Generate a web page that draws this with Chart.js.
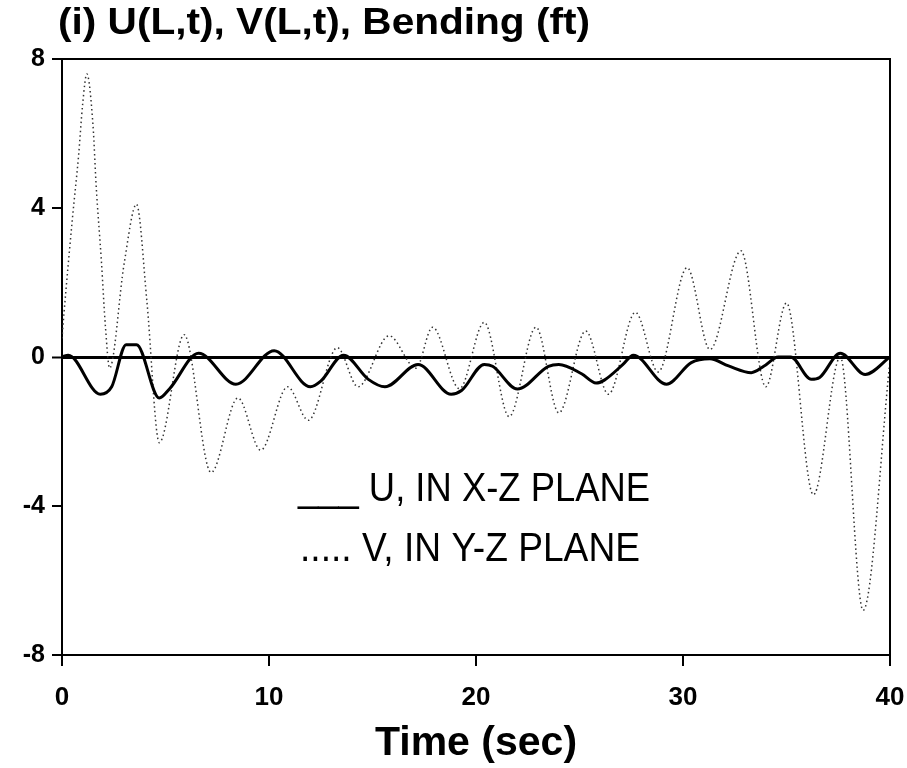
<!DOCTYPE html>
<html>
<head>
<meta charset="utf-8">
<script src="https://cdn.jsdelivr.net/npm/chart.js@4.4.0/dist/chart.umd.min.js"></script>
<style>
  html, body { margin: 0; padding: 0; background: #fff; }
  #wrap { width: 907px; height: 768px; }
</style>
</head>
<body>
<div id="wrap"><canvas id="bendChart" width="907" height="768"></canvas></div>
<script>
// 数据：U (X-Z 平面) 与 V (Y-Z 平面) 弯曲位移
const uTimes = [0, 0.3, 1.85, 2.4, 3.1, 3.6, 4.7, 5.2, 6.6, 8.4, 10.25, 12.0, 12.5, 13.6, 14.8, 15.6, 17.2, 18.8, 19.3, 20.4, 20.8, 22.0, 23.5, 24.0, 25.1, 25.8, 26.2, 27.1, 27.6, 29.2, 30.4, 31.3, 32.2, 33.3, 33.9, 34.6, 35.2, 36.2, 36.6, 37.6, 38.8, 40];
const uValues = [0, 0.05, -1.0, -0.8, 0.33, 0.33, -1.1, -0.85, 0.1, -0.73, 0.17, -0.8, -0.65, 0.05, -0.6, -0.8, -0.2, -1.0, -0.9, -0.2, -0.25, -0.86, -0.25, -0.2, -0.45, -0.7, -0.62, -0.2, 0.05, -0.73, -0.15, -0.05, -0.24, -0.42, -0.25, 0, 0, -0.6, -0.55, 0.1, -0.47, 0];

const vTimes = [0, 0.1, 0.5, 0.8, 1.0, 1.2, 1.5, 1.65, 1.9, 2.1, 2.3, 3.0, 3.6, 4.1, 4.7, 5.9, 7.2, 8.5, 9.6, 10.9, 11.9, 13.3, 14.3, 15.8, 17.1, 17.9, 19.2, 20.4, 21.6, 22.9, 24.0, 25.3, 26.4, 27.7, 28.8, 30.2, 31.3, 32.8, 34.0, 35.0, 36.3, 37.6, 38.7, 40];
const vValues = [0.5, 1.2, 3.7, 5.4, 6.8, 7.6, 6.2, 4.6, 2.6, 0.8, -0.3, 2.5, 4.1, 1.5, -2.3, 0.6, -3.1, -1.1, -2.5, -0.8, -1.7, 0.25, -0.8, 0.57, -0.3, 0.8, -0.85, 0.93, -1.6, 0.8, -1.5, 0.7, -1.0, 1.2, -0.4, 2.4, 0.2, 2.85, -0.8, 1.45, -3.7, 0.0, -6.8, -0.1];

const xTicks = [0, 10, 20, 30, 40];
const yTicks = [-8, -4, 0, 4, 8];

const titleText = "(i) U(L,t), V(L,t), Bending (ft)";
const xTitle = "Time (sec)";
const legendLines = ["___ U, IN X-Z PLANE", "..... V, IN Y-Z PLANE"];

const toPoints = (xs, ys) => xs.map((x, i) => ({ x: x, y: ys[i] }));

// 写一行文字，按目标宽度横向压缩/拉伸
function stretchText(ctx, text, x, y, width) {
    const w = ctx.measureText(text).width;
    ctx.save();
    ctx.translate(x, y);
    ctx.scale(width / w, 1);
    ctx.fillText(text, 0, 0);
    ctx.restore();
}

// 标题、边框和图例文字
const decorPlugin = {
    id: "decor",
    afterDraw(chart) {
        const ctx = chart.ctx;
        const a = chart.chartArea;
        ctx.save();
        ctx.strokeStyle = "#000";
        ctx.lineWidth = 2;
        ctx.beginPath();
        ctx.moveTo(a.left, a.top);
        ctx.lineTo(a.right, a.top);
        ctx.lineTo(a.right, a.bottom);
        ctx.stroke();

        ctx.fillStyle = "#000";
        ctx.textBaseline = "middle";
        ctx.textAlign = "left";
        ctx.font = "bold 36px 'Liberation Sans', Arial, sans-serif";
        stretchText(ctx, titleText, 58, 24, 532);

        ctx.font = "40px 'Liberation Sans', Arial, sans-serif";
        stretchText(ctx, legendLines[0], 298, 490, 352);
        stretchText(ctx, legendLines[1], 300, 550, 340);
        ctx.restore();
    }
};

const ctx = document.getElementById("bendChart").getContext("2d");
const chart = new Chart(ctx, {
    type: "line",
    data: {
        datasets: [{
            label: "U",
            data: toPoints(uTimes, uValues),
            borderColor: "#000",
            borderWidth: 3,
            pointRadius: 0,
            cubicInterpolationMode: "monotone",
            fill: false,
        }, {
            label: "V",
            data: toPoints(vTimes, vValues),
            borderColor: "#333",
            borderWidth: 1.5,
            borderDash: [1.5, 3],
            pointRadius: 0,
            cubicInterpolationMode: "monotone",
            fill: false,
        }]
    },
    options: {
        responsive: false,
        animation: false,
        layout: { padding: { top: 59, right: 17, left: 0, bottom: 0 } },
        plugins: {
            legend: { display: false },
            title: { display: false },
            tooltip: { enabled: false },
        },
        scales: {
            x: {
                type: "linear",
                min: 0,
                max: 40,
                afterBuildTicks: (scale) => { scale.ticks = xTicks.map(v => ({ value: v })); },
                afterFit: (scale) => {
                    scale.height = 113;
                    scale.paddingLeft = 0;
                    scale.paddingRight = 0;
                },
                border: { display: true, color: "#000", width: 2 },
                grid: { drawOnChartArea: false, color: "#000", tickLength: 11, lineWidth: 2 },
                ticks: {
                    color: "#000",
                    padding: 16,
                    font: { family: "'Liberation Sans', Arial, sans-serif", size: 26, weight: "bold" },
                },
                title: {
                    display: true,
                    text: xTitle,
                    color: "#000",
                    padding: { top: 0, bottom: 0 },
                    font: { family: "'Liberation Sans', Arial, sans-serif", size: 41, weight: "bold" },
                },
            },
            y: {
                type: "linear",
                min: -8,
                max: 8,
                afterBuildTicks: (scale) => { scale.ticks = yTicks.map(v => ({ value: v })); },
                afterFit: (scale) => {
                    scale.width = 62;
                    scale.paddingTop = 0;
                    scale.paddingBottom = 0;
                },
                border: { display: true, color: "#000", width: 2 },
                grid: {
                    color: (c) => (c.tick && c.tick.value === 0 ? "#000" : "rgba(0,0,0,0)"),
                    lineWidth: (c) => (c.tick && c.tick.value === 0 ? 3 : 0),
                    tickColor: "#000",
                    tickWidth: 2,
                    tickLength: 10,
                },
                ticks: {
                    color: "#000",
                    padding: 7,
                    font: { family: "'Liberation Sans', Arial, sans-serif", size: 25, weight: "bold" },
                },
            },
        },
    },
    plugins: [decorPlugin],
});
</script>
</body>
</html>
